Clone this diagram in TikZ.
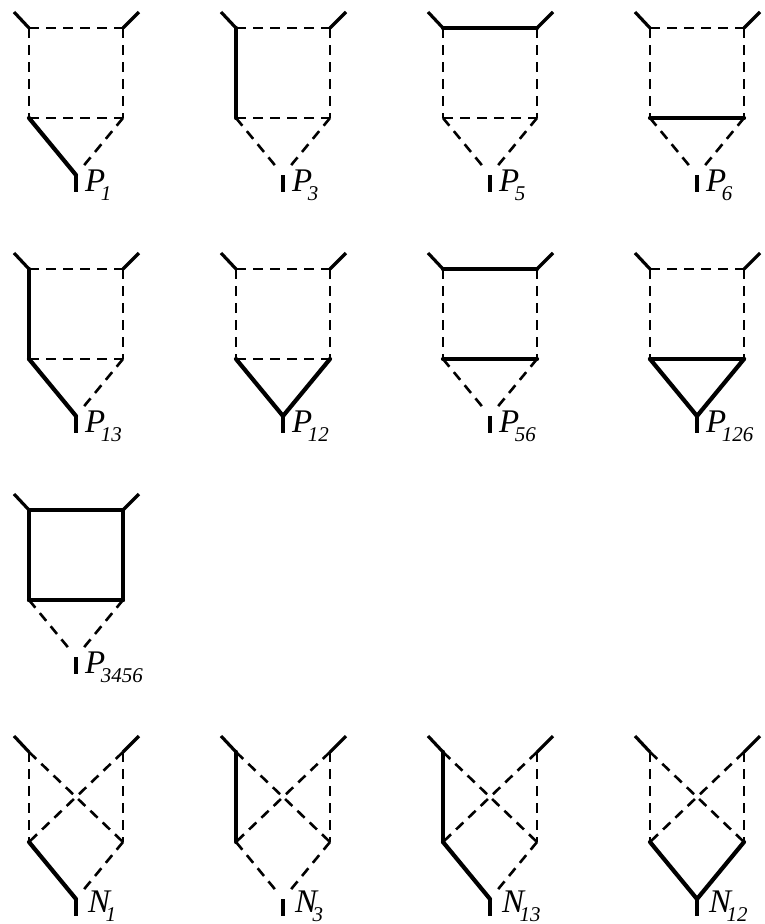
\documentclass[tikz,border=0pt]{standalone}
\usepackage{fontspec}
\setmainfont{Liberation Serif}
\tikzset{
  hard/.style={line width=4.2pt, line cap=round, shorten >=0pt},
  soft/.style={line width=2.6pt, dash pattern=on 10pt off 7pt},
  softend/.style={soft, shorten >=6pt},
  leg/.style={line width=3.2pt},
  lab/.style={anchor=base west, inner sep=0pt, font=\fontsize{33}{33}\selectfont\itshape},
  eleft/.style=soft, etop/.style=soft, eright/.style=soft, emid/.style=soft,
  ediagl/.style=softend, ediagr/.style=softend
}
\newcommand{\sublab}[2]{#1\kern-4.5pt\raisebox{-9.5pt}{\fontsize{21}{21}\selectfont #2}}
% corners of one graph, legs and label
\newcommand{\verts}[7]{
  \coordinate (#1-a) at (#2,#3);
  \coordinate (#1-b) at (#2+94,#3);
  \coordinate (#1-c) at (#2,#3+90);
  \coordinate (#1-d) at (#2+94,#3+90);
  \coordinate (#1-e) at (#2+47,#3+147);
  \coordinate (#1-f) at (#2+47,#3+164);
  \coordinate (#1-g) at (#2-15,#3+-16);
  \coordinate (#1-h) at (#2+110,#3+-16);
  \node[lab] (#1-lab) at (#2+#6,#3+#7) {\sublab{#4}{#5}};
  \draw[leg] (#1-a) -- (#1-g);
  \draw[leg] (#1-b) -- (#1-h);
  \draw[leg] (#1-e) -- (#1-f);
}
\newcommand{\planar}[6]{
  \begin{scope}[#6]
    \verts{#1}{#2}{#3}{#4}{#5}{56}{163}
    \draw[eleft] (#1-a) -- (#1-c);
    \draw[etop] (#1-a) -- (#1-b);
    \draw[eright] (#1-b) -- (#1-d);
    \draw[emid] (#1-c) -- (#1-d);
    \draw[ediagl] (#1-c) -- (#1-e);
    \draw[ediagr] (#1-d) -- (#1-e);
  \end{scope}
}
\newcommand{\crossed}[6]{
  \begin{scope}[#6]
    \verts{#1}{#2}{#3}{#4}{#5}{59}{160}
    \draw[eleft] (#1-a) -- (#1-c);
    \draw[soft] (#1-a) -- (#1-d);
    \draw[eright] (#1-b) -- (#1-d);
    \draw[soft] (#1-b) -- (#1-c);
    \draw[ediagl] (#1-c) -- (#1-e);
    \draw[ediagr] (#1-d) -- (#1-e);
  \end{scope}
}
\begin{document}
\begin{tikzpicture}[x=1pt, y=-1pt]
  \useasboundingbox (0,0) rectangle (765,924);
  % planar graphs
  \planar{pa}{29}{28}{P}{1}{ediagl/.style=hard}
  \planar{pb}{236}{28}{P}{3}{eleft/.style=hard}
  \planar{pc}{443}{28}{P}{5}{etop/.style=hard}
  \planar{pd}{650}{28}{P}{6}{emid/.style=hard}
  \planar{pe}{29}{269}{P}{13}{eleft/.style=hard, ediagl/.style=hard}
  \planar{pf}{236}{269}{P}{12}{ediagl/.style=hard, ediagr/.style=hard}
  \planar{pg}{443}{269}{P}{56}{etop/.style=hard, emid/.style=hard}
  \planar{ph}{650}{269}{P}{126}{emid/.style=hard, ediagl/.style=hard, ediagr/.style=hard}
  \planar{pi}{29}{510}{P}{3456}{eleft/.style=hard, etop/.style=hard, eright/.style=hard, emid/.style=hard}
  % crossed graphs
  \crossed{na}{29}{752}{N}{1}{ediagl/.style=hard}
  \crossed{nb}{236}{752}{N}{3}{eleft/.style=hard}
  \crossed{nc}{443}{752}{N}{13}{eleft/.style=hard, ediagl/.style=hard}
  \crossed{nd}{650}{752}{N}{12}{ediagl/.style=hard, ediagr/.style=hard}
\end{tikzpicture}
\end{document}
